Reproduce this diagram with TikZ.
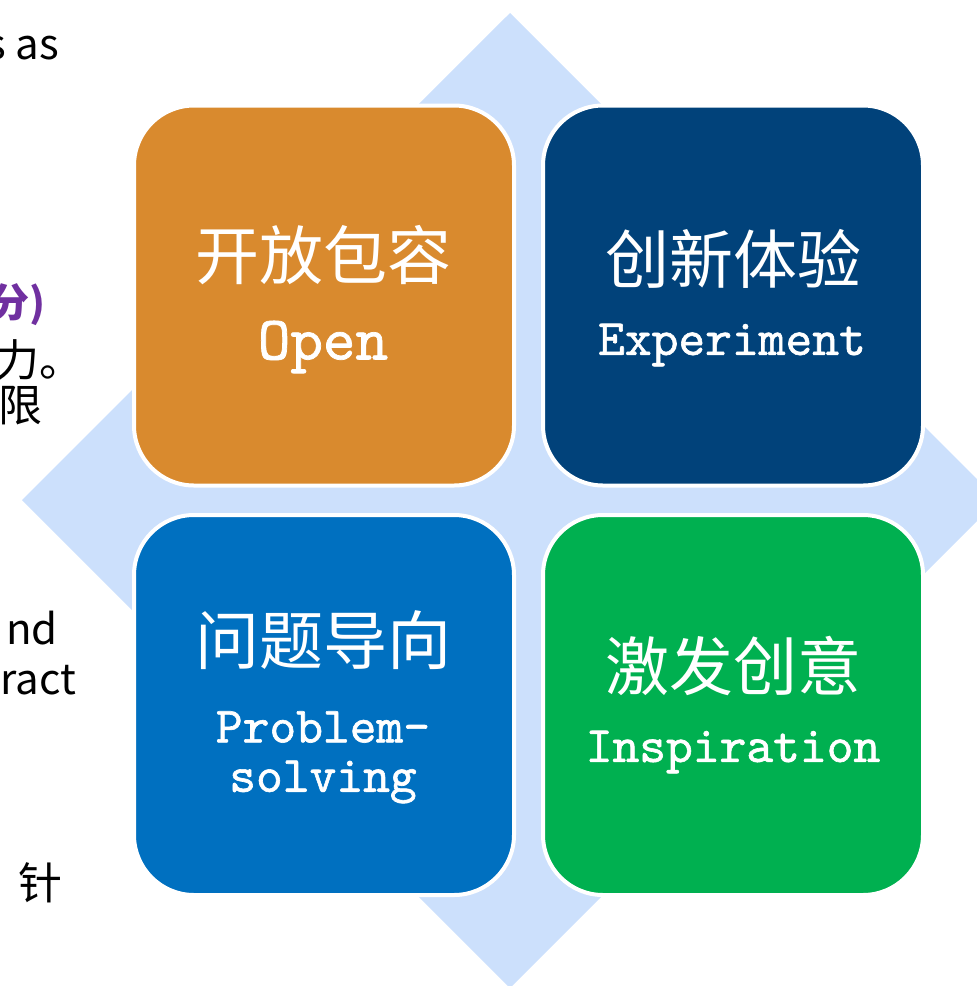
\documentclass[tikz,border=0pt]{standalone}
\usepackage{fontspec}
\newfontfamily\cjk{Noto Sans CJK SC}
\newfontfamily\mono{lmmono10-regular}[Extension=.otf, FakeBold=1.2]
\definecolor{diam}{HTML}{CCE0FC}
\definecolor{orangebox}{HTML}{D98A2E}
\definecolor{navybox}{HTML}{01427A}
\definecolor{bluebox}{HTML}{0070C0}
\definecolor{greenbox}{HTML}{00B050}
\definecolor{purpletxt}{HTML}{7030A0}
\tikzset{
  quad/.style={draw=white, line width=4pt, rounded corners=60pt, minimum width=380pt, minimum height=380pt, inner sep=0pt},
  cn/.style={text=white, font=\cjk\fontsize{64}{70}\selectfont, inner sep=0pt, anchor=center},
  en/.style={text=white, font=\mono\fontsize{51}{56}\selectfont, inner sep=0pt, anchor=center},
  side/.style={text=black, font=\cjk\fontsize{42}{46}\selectfont, inner sep=0pt, anchor=east},
  sidecn/.style={text=black, font=\cjk\fontsize{44}{48}\selectfont, inner sep=0pt, anchor=east},
}
\begin{document}
\begin{tikzpicture}[x=1pt,y=-1pt]
\useasboundingbox (0,0) rectangle (977,986);
% background diamond
\fill[diam] (510,13) coordinate (dt) -- (998,500) coordinate (dr) -- (510,988) coordinate (db) -- (22,500) coordinate (dl) -- cycle;
% four boxes
\node[quad, fill=orangebox] (open) at (324,295.5) {};
\node[quad, fill=navybox] (exp) at (733,295.5) {};
\node[quad, fill=bluebox] (prob) at (324,705) {};
\node[quad, fill=greenbox] (insp) at (733,705) {};
% texts
\node[cn] (t1) at (323,255) {开放包容};
\node[en, font=\mono\fontsize{62}{68}\selectfont] (e1) at (323,347) {Open};
\node[cn] (t2) at (733,259) {创新体验};
\node[en] (e2) at (732,345) {Experiment};
\node[cn] (t3) at (323,640) {问题导向};
\node[en] (e3) at (323,727) {Problem-};
\node[en] (e3b) at (323,782) {solving};
\node[cn] (t4) at (733,666) {激发创意};
\node[en] (e4) at (733,752) {Inspiration};
% cut-off side texts
\node[side] (s1) at (59,48) {s as};
\node[sidecn, text=purpletxt, font=\cjk\bfseries\fontsize{40}{44}\selectfont] (s2) at (46,305) {分)};
\node[sidecn] (s3) at (84,360) {力。};
\node[sidecn] (s4) at (43,406) {限};
\node[side] (s5) at (58,628) {nd};
\node[side] (s6) at (76,680) {ract};
\node[sidecn] (s7) at (63,883) {针};
\end{tikzpicture}
\end{document}
